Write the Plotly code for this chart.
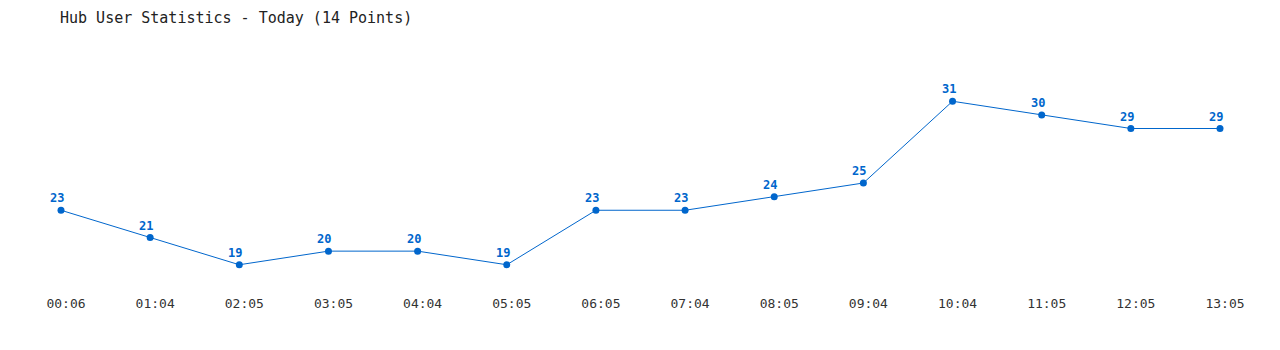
import plotly.graph_objects as go

times = ["00:06", "01:04", "02:05", "03:05", "04:04", "05:05", "06:05",
         "07:04", "08:05", "09:04", "10:04", "11:05", "12:05", "13:05"]
users = [23, 21, 19, 20, 20, 19, 23, 23, 24, 25, 31, 30, 29, 29]

idx = list(range(len(times)))
color = "#0066cc"

fig = go.Figure()
fig.add_trace(go.Scatter(
    x=idx, y=users, mode="lines+markers",
    line=dict(color=color, width=1),
    marker=dict(color=color, size=7),
    cliponaxis=False, hoverinfo="skip",
))

for i, v in zip(idx, users):
    fig.add_annotation(x=i, y=v, text=f"<b>{v}</b>", showarrow=False,
                       xshift=-4, yshift=12, yanchor="middle",
                       font=dict(family="DejaVu Sans Mono", size=12, color=color))

fig.update_layout(
    width=1280, height=350,
    paper_bgcolor="white", plot_bgcolor="white",
    margin=dict(l=61, r=60, t=74, b=58),
    showlegend=False,
    title=dict(text="Hub User Statistics - Today (14 Points)",
               x=60 / 1280, xanchor="left", xref="container",
               y=1 - 18 / 350, yanchor="middle", yref="container",
               font=dict(family="DejaVu Sans Mono", size=15, color="#222")),
    xaxis=dict(range=[0, 13], tickmode="array", tickvals=idx, ticktext=times,
               showgrid=False, zeroline=False, showline=False, ticks="",
               ticklabelshift=5, ticklabelstandoff=2,
               tickfont=dict(family="DejaVu Sans Mono", size=13, color="#333")),
    yaxis=dict(range=[17, 33], visible=False, showgrid=False, zeroline=False),
)

fig.write_html("out.html")
